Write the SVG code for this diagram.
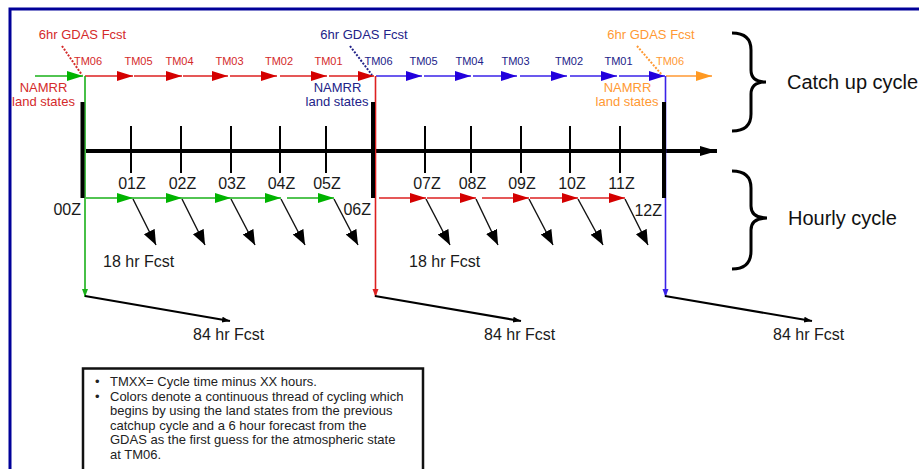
<svg xmlns="http://www.w3.org/2000/svg" width="919" height="469" viewBox="0 0 919 469">
<style>
text{font-family:"Liberation Sans",Arial,sans-serif}
.tm{font-size:11px;text-anchor:middle}
.gd{font-size:13px;text-anchor:middle}
.ns{font-size:13px;text-anchor:middle}
.z{font-size:16px;fill:#1a1a1a;text-anchor:middle}
.zr{font-size:16px;fill:#1a1a1a;text-anchor:end}
.fc{font-size:16px;fill:#1a1a1a}
.big{font-size:20px;fill:#111}
.note{font-size:13px;fill:#222}
.red{fill:#d42a2a}.navy{fill:#222288}.org{fill:#ff9933}
.lr{stroke:#dd2020;stroke-width:1.6;fill:none}
.lg{stroke:#19b019;stroke-width:1.6;fill:none}
.lb{stroke:#3a22e8;stroke-width:1.6;fill:none}
.lo{stroke:#ff9933;stroke-width:1.6;fill:none}
.diag{stroke:#111;stroke-width:1.4;fill:none}
.long{stroke:#000;stroke-width:2.2;fill:none}
.tick{stroke:#000;stroke-width:2;fill:none}
.thick{stroke:#000;stroke-width:4;fill:none}
.dot{stroke-width:2;stroke-dasharray:2 1.5;fill:none}
.brace{stroke:#000;stroke-width:3;fill:none}
</style>
<defs>
<marker id="ar" markerUnits="userSpaceOnUse" markerWidth="17" markerHeight="11" refX="16" refY="5" orient="auto"><path d="M0,0 L16,5 L0,10 z" fill="#d40000"/></marker>
<marker id="ag" markerUnits="userSpaceOnUse" markerWidth="17" markerHeight="11" refX="16" refY="5" orient="auto"><path d="M0,0 L16,5 L0,10 z" fill="#00b300"/></marker>
<marker id="ab" markerUnits="userSpaceOnUse" markerWidth="17" markerHeight="11" refX="16" refY="5" orient="auto"><path d="M0,0 L16,5 L0,10 z" fill="#2200dd"/></marker>
<marker id="ao" markerUnits="userSpaceOnUse" markerWidth="17" markerHeight="11" refX="16" refY="5" orient="auto"><path d="M0,0 L16,5 L0,10 z" fill="#ff9922"/></marker>
<marker id="ak" markerUnits="userSpaceOnUse" markerWidth="16" markerHeight="13" refX="15" refY="6" orient="auto"><path d="M0,0 L15,6 L0,12 z" fill="#000"/></marker>
<marker id="at" markerUnits="userSpaceOnUse" markerWidth="18" markerHeight="11" refX="17" refY="5" orient="auto"><path d="M0,0 L17,5 L0,10 z" fill="#000"/></marker>
<marker id="sk" markerUnits="userSpaceOnUse" markerWidth="9" markerHeight="7" refX="8" refY="3" orient="auto"><path d="M0,0 L8,3 L0,6 z" fill="#000"/></marker>
<marker id="sg" markerUnits="userSpaceOnUse" markerWidth="9" markerHeight="7" refX="8" refY="3" orient="auto"><path d="M0,0 L8,3 L0,6 z" fill="#19b019"/></marker>
<marker id="sr" markerUnits="userSpaceOnUse" markerWidth="9" markerHeight="7" refX="8" refY="3" orient="auto"><path d="M0,0 L8,3 L0,6 z" fill="#dd2020"/></marker>
<marker id="sb" markerUnits="userSpaceOnUse" markerWidth="9" markerHeight="7" refX="8" refY="3" orient="auto"><path d="M0,0 L8,3 L0,6 z" fill="#3a22e8"/></marker>
</defs>
<rect width="919" height="469" fill="#fff"/>
<g id="frame"><path d="M10,469 L10,9 L919,9" stroke="#000099" stroke-width="3" fill="none"/></g>

<g id="timeline">
<line class="thick" x1="86" y1="151" x2="717" y2="151" marker-end="url(#at)"/>
<g class="tick">
<line x1="131" y1="126" x2="131" y2="173"/><line x1="181" y1="126" x2="181" y2="173"/><line x1="231" y1="126" x2="231" y2="173"/><line x1="280" y1="126" x2="280" y2="173"/><line x1="326" y1="126" x2="326" y2="173"/>
<line x1="425" y1="126" x2="425" y2="173"/><line x1="471" y1="126" x2="471" y2="173"/><line x1="521" y1="126" x2="521" y2="173"/><line x1="570" y1="126" x2="570" y2="173"/><line x1="620" y1="126" x2="620" y2="173"/>
</g>
<text class="zr" x="81" y="215">00Z</text>
<text class="z" x="132" y="189">01Z</text><text class="z" x="182.5" y="189">02Z</text><text class="z" x="232" y="189">03Z</text><text class="z" x="281.5" y="189">04Z</text><text class="z" x="327" y="189">05Z</text>
<text class="zr" x="371" y="215">06Z</text>
<text class="z" x="427" y="189">07Z</text><text class="z" x="472.5" y="189">08Z</text><text class="z" x="522" y="189">09Z</text><text class="z" x="572" y="189">10Z</text><text class="z" x="621.5" y="189">11Z</text>
<text class="zr" x="662" y="216">12Z</text>
</g>

<g id="connectors">
<line class="lg" x1="35" y1="76" x2="83" y2="76" marker-end="url(#ag)"/>
<line class="lr" x1="85" y1="76" x2="133" y2="76" marker-end="url(#ar)"/>
<line class="lr" x1="134" y1="76" x2="182" y2="76" marker-end="url(#ar)"/>
<line class="lr" x1="183" y1="76" x2="228" y2="76" marker-end="url(#ar)"/>
<line class="lr" x1="230" y1="76" x2="277" y2="76" marker-end="url(#ar)"/>
<line class="lr" x1="280" y1="76" x2="327" y2="76" marker-end="url(#ar)"/>
<line class="lr" x1="329" y1="76" x2="374" y2="76" marker-end="url(#ar)"/>
<line class="lb" x1="376" y1="76" x2="422" y2="76" marker-end="url(#ab)"/>
<line class="lb" x1="424" y1="76" x2="471" y2="76" marker-end="url(#ab)"/>
<line class="lb" x1="473" y1="76" x2="517" y2="76" marker-end="url(#ab)"/>
<line class="lb" x1="520" y1="76" x2="567" y2="76" marker-end="url(#ab)"/>
<line class="lb" x1="570" y1="76" x2="617" y2="76" marker-end="url(#ab)"/>
<line class="lb" x1="619" y1="76" x2="665" y2="76" marker-end="url(#ab)"/>
<line class="lo" x1="666" y1="76" x2="712" y2="76" marker-end="url(#ao)"/>
<line class="dot" stroke="#d42a2a" x1="62" y1="46" x2="82" y2="75"/>
<line class="dot" stroke="#222288" x1="350" y1="46" x2="372" y2="75"/>
<line class="dot" stroke="#ff9933" x1="637" y1="46" x2="662" y2="75"/>
<line class="lg" x1="85" y1="76" x2="85" y2="297" marker-end="url(#sg)"/>
<line class="lr" x1="375.5" y1="76" x2="375.5" y2="297" marker-end="url(#sr)"/>
<line class="lb" x1="665.5" y1="76" x2="665.5" y2="297" marker-end="url(#sb)"/>
<line class="thick" x1="82.5" y1="102" x2="82.5" y2="198"/>
<line class="thick" x1="373" y1="102" x2="373" y2="198"/>
<line class="thick" x1="664" y1="102" x2="664" y2="198"/>
<line class="long" x1="85" y1="296" x2="230" y2="321" marker-end="url(#sk)"/>
<line class="long" x1="375" y1="296" x2="521" y2="321" marker-end="url(#sk)"/>
<line class="long" x1="665" y1="296" x2="812" y2="321" marker-end="url(#sk)"/>
<line class="lg" x1="86" y1="198" x2="133" y2="198" marker-end="url(#ag)"/>
<line class="lg" x1="133" y1="198" x2="182" y2="198" marker-end="url(#ag)"/>
<line class="lg" x1="182" y1="198" x2="231" y2="198" marker-end="url(#ag)"/>
<line class="lg" x1="231" y1="198" x2="281" y2="198" marker-end="url(#ag)"/>
<line class="lg" x1="287" y1="198" x2="334" y2="198" marker-end="url(#ag)"/>
<line class="lr" x1="379" y1="198" x2="426" y2="198" marker-end="url(#ar)"/>
<line class="lr" x1="427" y1="198" x2="476" y2="198" marker-end="url(#ar)"/>
<line class="lr" x1="482" y1="198" x2="529" y2="198" marker-end="url(#ar)"/>
<line class="lr" x1="530" y1="198" x2="578" y2="198" marker-end="url(#ar)"/>
<line class="lr" x1="580" y1="198" x2="625" y2="198" marker-end="url(#ar)"/>
<line class="diag" x1="133" y1="199" x2="156" y2="245" marker-end="url(#ak)"/>
<line class="diag" x1="182" y1="199" x2="205" y2="245" marker-end="url(#ak)"/>
<line class="diag" x1="231" y1="199" x2="255" y2="245" marker-end="url(#ak)"/>
<line class="diag" x1="281" y1="199" x2="305" y2="245" marker-end="url(#ak)"/>
<line class="diag" x1="334" y1="199" x2="358" y2="245" marker-end="url(#ak)"/>
<line class="diag" x1="426" y1="199" x2="450" y2="245" marker-end="url(#ak)"/>
<line class="diag" x1="476" y1="199" x2="498" y2="245" marker-end="url(#ak)"/>
<line class="diag" x1="529" y1="199" x2="553" y2="245" marker-end="url(#ak)"/>
<line class="diag" x1="578" y1="199" x2="603" y2="245" marker-end="url(#ak)"/>
<line class="diag" x1="625" y1="199" x2="648" y2="245" marker-end="url(#ak)"/>
</g>

<g id="cycle00">
<text class="gd red" x="82.5" y="39">6hr GDAS Fcst</text>
<text class="ns red" x="43.5" y="92">NAMRR</text>
<text class="ns red" x="43.5" y="106">land states</text>
<text class="tm red" x="88" y="65">TM06</text>
<text class="tm red" x="138.5" y="65">TM05</text>
<text class="tm red" x="179.5" y="65">TM04</text>
<text class="tm red" x="229.5" y="65">TM03</text>
<text class="tm red" x="279" y="65">TM02</text>
<text class="tm red" x="328.5" y="65">TM01</text>
</g>
<g id="cycle06">
<text class="gd navy" x="364" y="39">6hr GDAS Fcst</text>
<text class="ns navy" x="337.5" y="92">NAMRR</text>
<text class="ns navy" x="337" y="106">land states</text>
<text class="tm navy" x="378.5" y="65">TM06</text>
<text class="tm navy" x="423.5" y="65">TM05</text>
<text class="tm navy" x="469.5" y="65">TM04</text>
<text class="tm navy" x="515.5" y="65">TM03</text>
<text class="tm navy" x="569" y="65">TM02</text>
<text class="tm navy" x="618.5" y="65">TM01</text>
</g>
<g id="cycle12">
<text class="gd org" x="651" y="39">6hr GDAS Fcst</text>
<text class="ns org" x="627.5" y="92">NAMRR</text>
<text class="ns org" x="627" y="106">land states</text>
<text class="tm org" x="670" y="65">TM06</text>
</g>

<g id="fcst-labels">
<text class="fc" x="103" y="267">18 hr Fcst</text>
<text class="fc" x="409" y="267">18 hr Fcst</text>
<text class="fc" x="193" y="340">84 hr Fcst</text>
<text class="fc" x="484" y="340">84 hr Fcst</text>
<text class="fc" x="773" y="340">84 hr Fcst</text>
</g>

<g id="catchup-brace">
<path class="brace" d="M732,33 Q751,33 751,50 L751,70 Q751,82 766,82 Q751,82 751,94 L751,114 Q751,131 732,131"/>
<text class="big" x="787" y="89">Catch up cycle</text>
</g>
<g id="hourly-brace">
<path class="brace" d="M732,171 Q751,171 751,188 L751,206 Q751,218 767,218 Q751,218 751,230 L751,251 Q751,269 732,269"/>
<text class="big" x="788" y="225">Hourly cycle</text>
</g>

<g id="note">
<rect x="83" y="368.5" width="340" height="140" fill="#fff" stroke="#111" stroke-width="2.5"/>
<text class="note" x="95" y="386">•</text>
<text class="note" x="110" y="386">TMXX= Cycle time minus XX hours.</text>
<text class="note" x="95" y="400.5">•</text>
<text class="note" x="110" y="400.5">Colors denote a continuous thread of cycling which</text>
<text class="note" x="110" y="415">begins by using the land states from the previous</text>
<text class="note" x="110" y="429.5">catchup cycle and a 6 hour forecast from the</text>
<text class="note" x="110" y="444">GDAS as the first guess for the atmospheric state</text>
<text class="note" x="110" y="458.5">at TM06.</text>
</g>
</svg>
